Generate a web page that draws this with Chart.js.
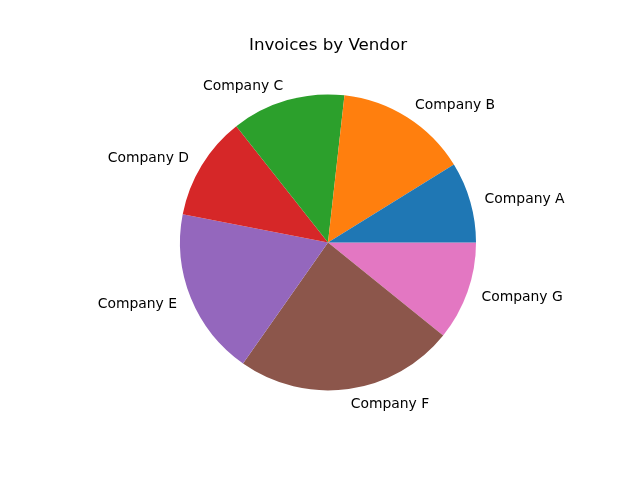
<!DOCTYPE html>
<html>
<head>
<meta charset="utf-8">
<script src="https://cdn.jsdelivr.net/npm/chart.js@4"></script>
<style>
html,body{margin:0;padding:0;background:#fff;}
#wrap{width:640px;height:480px;}
</style>
</head>
<body>
<div id="wrap"><canvas id="c" width="640" height="480"></canvas></div>
<script>
const titleText = "Invoices by Vendor";
const categories = ["Company A","Company B","Company C","Company D","Company E","Company F","Company G"];
const values = [8.8, 14.4, 12.4, 11.3, 18.3, 23.9, 10.8];
const colors = ["#1f77b4","#ff7f0e","#2ca02c","#d62728","#9467bd","#8c564b","#e377c2"];

// Chart.js draws clockwise from the rotation point; matplotlib counter-clockwise from 3 o'clock.
const revCats = categories.slice().reverse();
const revVals = values.slice().reverse();
const revCols = colors.slice().reverse();

const labelPlugin = {
  id: 'mplLabels',
  afterDraw(chart) {
    const ctx = chart.ctx;
    ctx.save();
    ctx.fillStyle = '#000';
    ctx.font = '16.7px "DejaVu Sans"';
    ctx.textAlign = 'center';
    ctx.textBaseline = 'alphabetic';
    ctx.fillText(titleText, 328, 49.5);
    ctx.font = '13.9px "DejaVu Sans"';
    ctx.textBaseline = 'middle';
    const meta = chart.getDatasetMeta(0);
    meta.data.forEach((arc, i) => {
      const p = arc.getProps(['x','y','startAngle','endAngle','outerRadius'], true);
      const mid = (p.startAngle + p.endAngle) / 2;
      const r = p.outerRadius * 1.1;
      const x = p.x + Math.cos(mid) * r;
      const y = p.y + Math.sin(mid) * r + 1;
      ctx.textAlign = Math.cos(mid) >= 0 ? 'left' : 'right';
      ctx.fillText(revCats[i], x, y);
    });
    ctx.restore();
  }
};

new Chart(document.getElementById('c'), {
  type: 'pie',
  data: {
    labels: revCats,
    datasets: [{ data: revVals, backgroundColor: revCols, borderWidth: 0 }]
  },
  options: {
    responsive: false,
    animation: false,
    rotation: 90,
    layout: { padding: { left: 180, right: 164, top: 94.4, bottom: 89.6 } },
    plugins: { legend: { display: false }, title: { display: false }, tooltip: { enabled: false } }
  },
  plugins: [labelPlugin]
});
</script>
</body>
</html>
